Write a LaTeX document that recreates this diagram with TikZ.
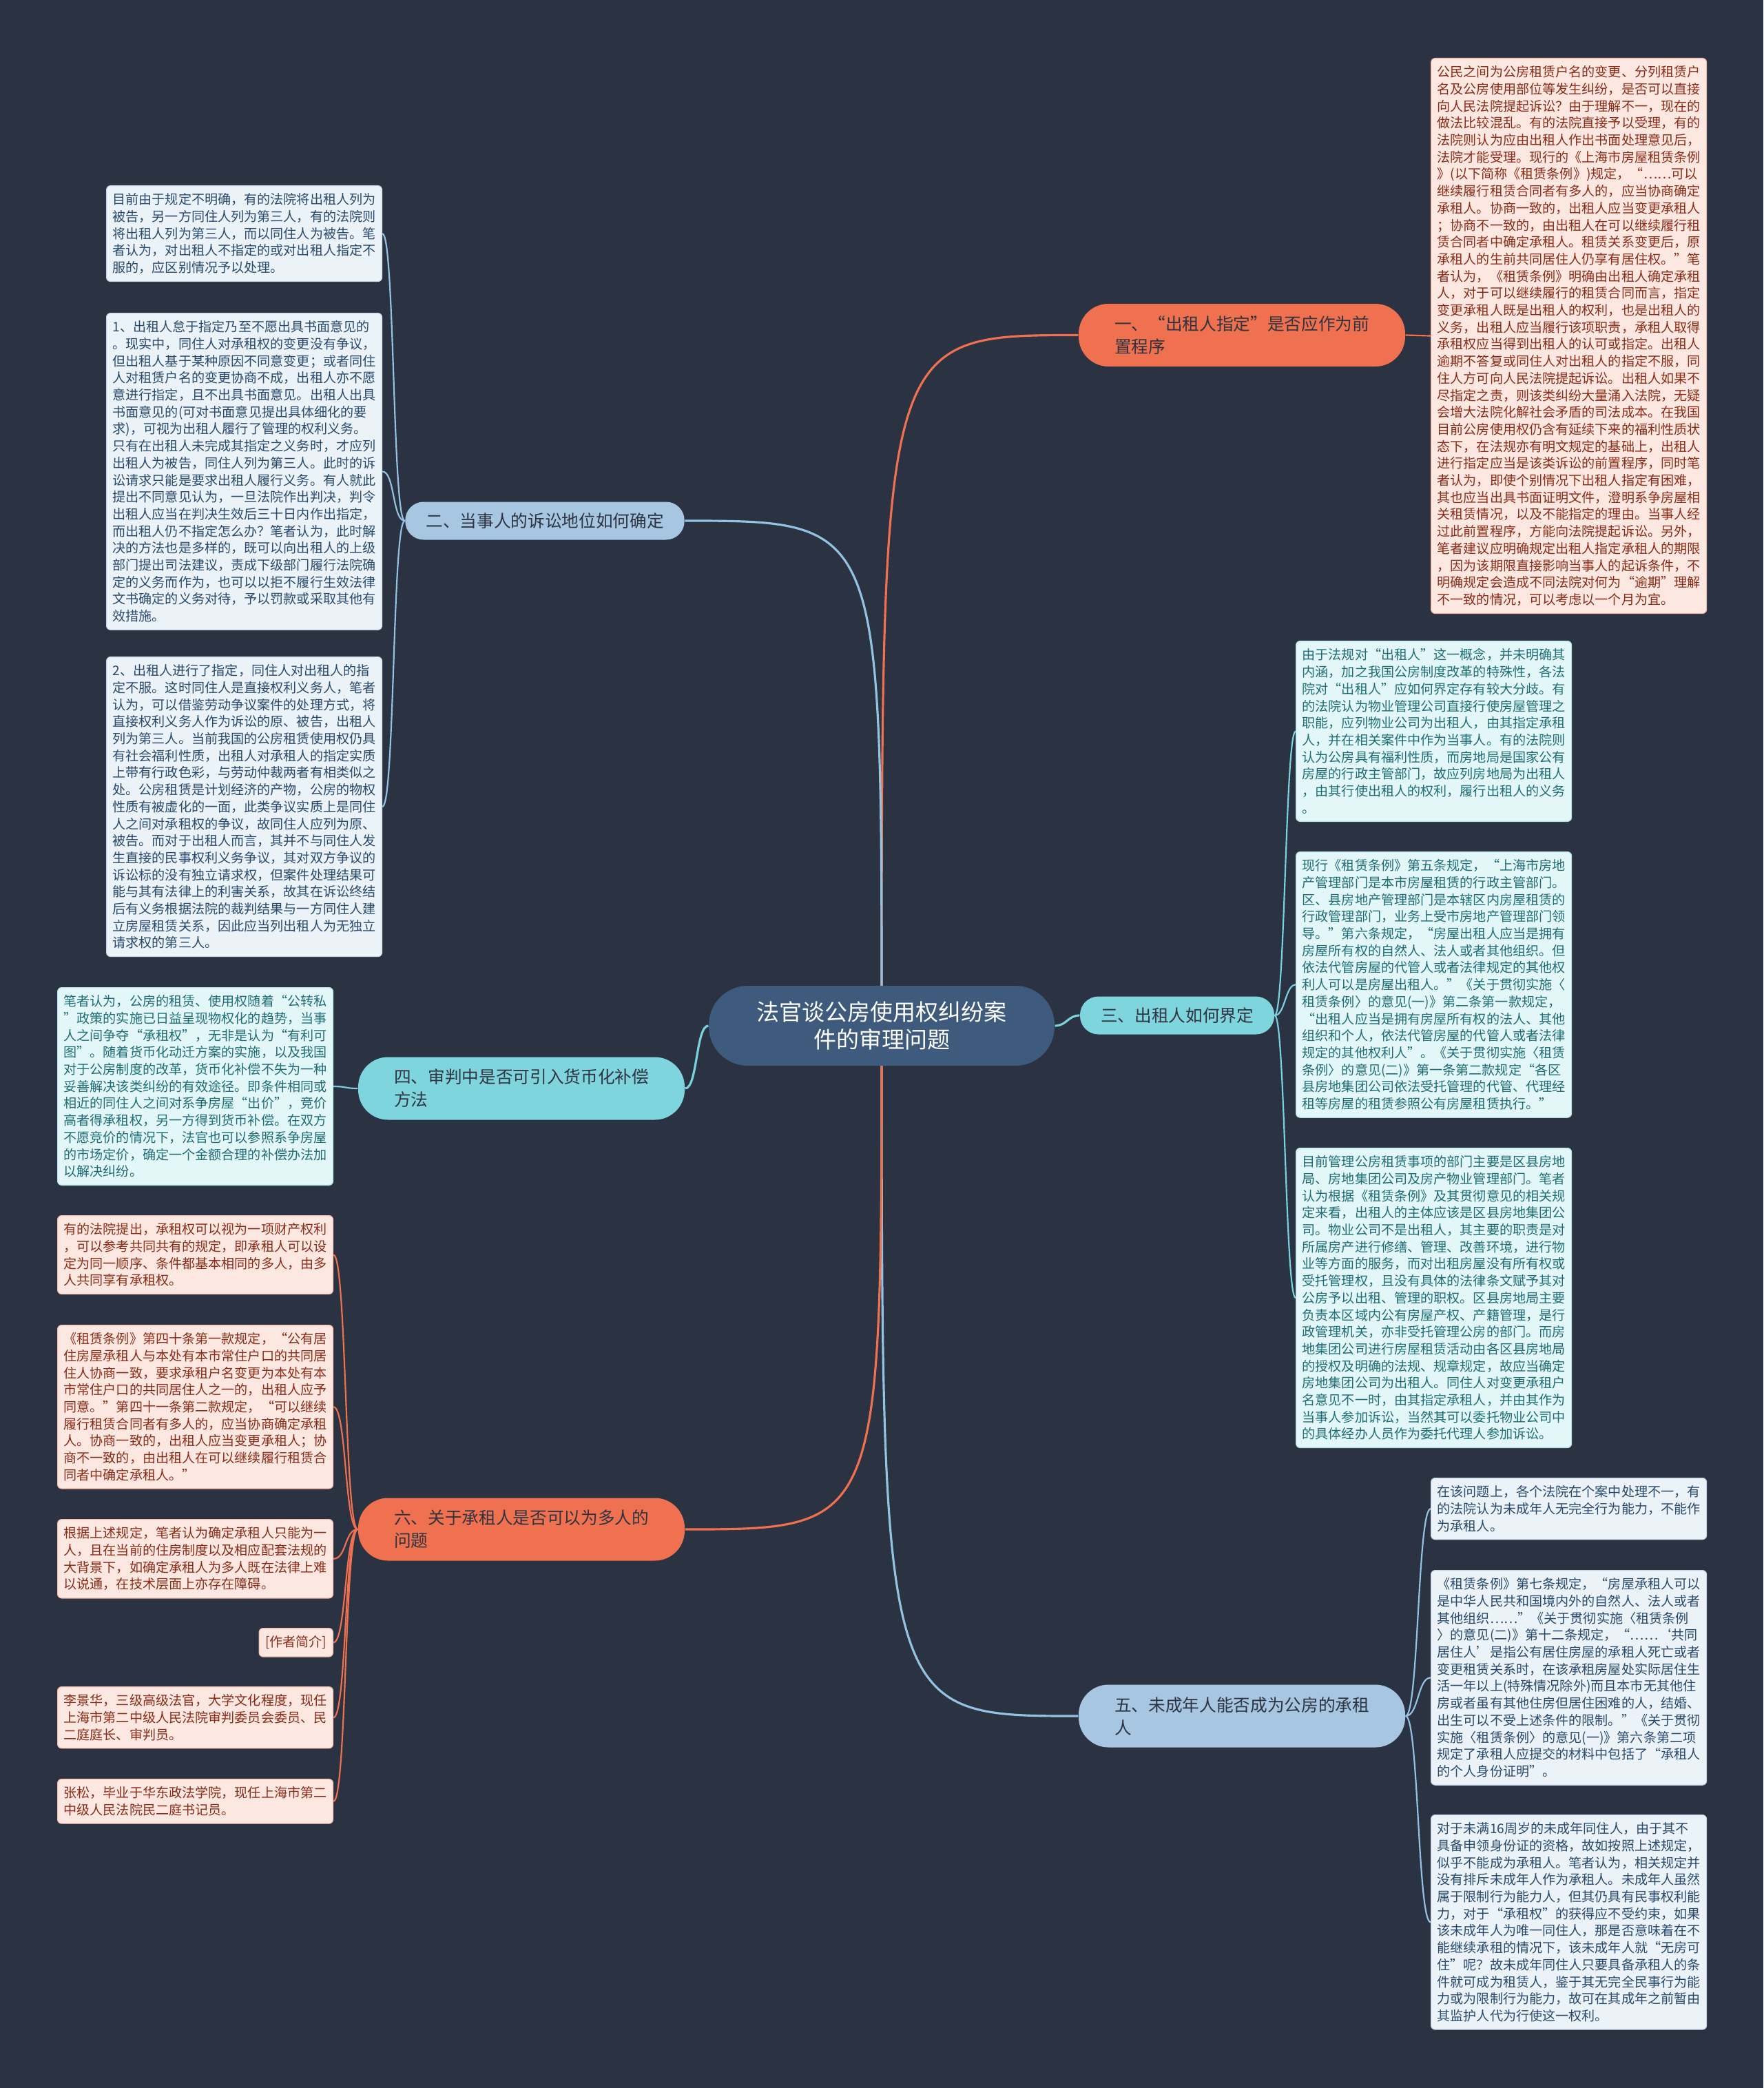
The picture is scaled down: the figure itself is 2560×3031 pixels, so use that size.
\documentclass[tikz,border=0pt]{standalone}
\usepackage{fontspec}
\setmainfont{Noto Sans CJK SC}
\definecolor{bgc}{HTML}{2B3241}
\definecolor{cen}{HTML}{3E5A7D}
\definecolor{orn}{HTML}{EF7150}
\definecolor{blu}{HTML}{A6C6E2}
\definecolor{cyn}{HTML}{7FD5DD}
\definecolor{lnB}{HTML}{93C3E3}
\definecolor{lnC}{HTML}{78D3DE}
\definecolor{oF}{HTML}{FDE7E1}\definecolor{oD}{HTML}{F3B9A8}\definecolor{oT}{HTML}{8A2C17}
\definecolor{bF}{HTML}{EBF2F8}\definecolor{bD}{HTML}{C3D6E8}\definecolor{bT}{HTML}{284A6C}
\definecolor{cF}{HTML}{E3F6F8}\definecolor{cD}{HTML}{B0E2E7}\definecolor{cT}{HTML}{1F6E76}
\definecolor{brT}{HTML}{2F3440}
\pgfdeclarelayer{bg}
\pgfsetlayers{bg,main}
\tikzset{
  lf/.style={rounded corners=1.8pt, inner xsep=2.7pt, inner ysep=3.3pt, align=left, anchor=north west, line width=0.35pt, font=\fontsize{5.73pt}{7.41pt}\selectfont},
  lfO/.style={lf, draw=oD, fill=oF, text=oT},
  lfB/.style={lf, draw=bD, fill=bF, text=bT},
  lfC/.style={lf, draw=cD, fill=cF, text=cT},
  lfw/.style={text width=114.6pt},
  brbase/.style={font=\fontsize{7.4pt}{9.9pt}\selectfont, text=brT},
  brtwo/.style={brbase, rounded corners=13pt, align=left, text width=111pt, inner xsep=15.6pt, minimum height=27.3pt},
  brone/.style={brbase, rounded corners=8pt, inner xsep=9pt, minimum height=16.5pt},
  centre/.style={fill=cen, text=white, rounded corners=17pt, align=center, minimum width=150.6pt, minimum height=34.8pt, font=\fontsize{9.9pt}{12.2pt}\selectfont},
  lnk/.style={line width=0.65pt},
  mlnk/.style={line width=0.95pt},
}
\begin{document}
\begin{tikzpicture}[x=0.3pt,y=-0.3pt]
\useasboundingbox (0,0) rectangle (2560,3031);
\begin{pgfonlayer}{bg}
\fill[bgc] (0,0) rectangle (2560,3031);
\end{pgfonlayer}

% central
\node[centre] (c) at (1280,1489) {法官谈公房使用权纠纷案\\件的审理问题};

% branches
\node[brtwo, fill=orn] (b1) at (1803,486.5) {一、“出租人指定”是否应作为前\\置程序};
\node[brone, fill=blu] (b2) at (791,756) {二、当事人的诉讼地位如何确定};
\node[brone, fill=cyn] (b3) at (1709,1474) {三、出租人如何界定};
\node[brtwo, fill=cyn] (b4) at (757,1580) {四、审判中是否可引入货币化补偿\\方法};
\node[brtwo, fill=blu] (b5) at (1803,2491) {五、未成年人能否成为公房的承租\\人};
\node[brtwo, fill=orn] (b6) at (757,2220) {六、关于承租人是否可以为多人的\\问题};

% leaf 1
\node[lfO, lfw] (l1) at (2077,84) {公民之间为公房租赁户名的变更、分列租赁户\\
名及公房使用部位等发生纠纷，是否可以直接\\
向人民法院提起诉讼？由于理解不一，现在的\\
做法比较混乱。有的法院直接予以受理，有的\\
法院则认为应由出租人作出书面处理意见后，\\
法院才能受理。现行的《上海市房屋租赁条例\\
》(以下简称《租赁条例》)规定，“……可以\\
继续履行租赁合同者有多人的，应当协商确定\\
承租人。协商一致的，出租人应当变更承租人\\
；协商不一致的，由出租人在可以继续履行租\\
赁合同者中确定承租人。租赁关系变更后，原\\
承租人的生前共同居住人仍享有居住权。”笔\\
者认为，《租赁条例》明确由出租人确定承租\\
人，对于可以继续履行的租赁合同而言，指定\\
变更承租人既是出租人的权利，也是出租人的\\
义务，出租人应当履行该项职责，承租人取得\\
承租权应当得到出租人的认可或指定。出租人\\
逾期不答复或同住人对出租人的指定不服，同\\
住人方可向人民法院提起诉讼。出租人如果不\\
尽指定之责，则该类纠纷大量涌入法院，无疑\\
会增大法院化解社会矛盾的司法成本。在我国\\
目前公房使用权仍含有延续下来的福利性质状\\
态下，在法规亦有明文规定的基础上，出租人\\
进行指定应当是该类诉讼的前置程序，同时笔\\
者认为，即使个别情况下出租人指定有困难，\\
其也应当出具书面证明文件，澄明系争房屋相\\
关租赁情况，以及不能指定的理由。当事人经\\
过此前置程序，方能向法院提起诉讼。另外，\\
笔者建议应明确规定出租人指定承租人的期限\\
，因为该期限直接影响当事人的起诉条件，不\\
明确规定会造成不同法院对何为“逾期”理解\\
不一致的情况，可以考虑以一个月为宜。};

% leaves 2
\node[lfB, lfw] (l2a) at (154,269) {目前由于规定不明确，有的法院将出租人列为\\
被告，另一方同住人列为第三人，有的法院则\\
将出租人列为第三人，而以同住人为被告。笔\\
者认为，对出租人不指定的或对出租人指定不\\
服的，应区别情况予以处理。};
\node[lfB, lfw] (l2b) at (154,454) {1、出租人怠于指定乃至不愿出具书面意见的\\
。现实中，同住人对承租权的变更没有争议，\\
但出租人基于某种原因不同意变更；或者同住\\
人对租赁户名的变更协商不成，出租人亦不愿\\
意进行指定，且不出具书面意见。出租人出具\\
书面意见的(可对书面意见提出具体细化的要\\
求)，可视为出租人履行了管理的权利义务。\\
只有在出租人未完成其指定之义务时，才应列\\
出租人为被告，同住人列为第三人。此时的诉\\
讼请求只能是要求出租人履行义务。有人就此\\
提出不同意见认为，一旦法院作出判决，判令\\
出租人应当在判决生效后三十日内作出指定，\\
而出租人仍不指定怎么办？笔者认为，此时解\\
决的方法也是多样的，既可以向出租人的上级\\
部门提出司法建议，责成下级部门履行法院确\\
定的义务而作为，也可以以拒不履行生效法律\\
文书确定的义务对待，予以罚款或采取其他有\\
效措施。};
\node[lfB, lfw] (l2c) at (154,953) {2、出租人进行了指定，同住人对出租人的指\\
定不服。这时同住人是直接权利义务人，笔者\\
认为，可以借鉴劳动争议案件的处理方式，将\\
直接权利义务人作为诉讼的原、被告，出租人\\
列为第三人。当前我国的公房租赁使用权仍具\\
有社会福利性质，出租人对承租人的指定实质\\
上带有行政色彩，与劳动仲裁两者有相类似之\\
处。公房租赁是计划经济的产物，公房的物权\\
性质有被虚化的一面，此类争议实质上是同住\\
人之间对承租权的争议，故同住人应列为原、\\
被告。而对于出租人而言，其并不与同住人发\\
生直接的民事权利义务争议，其对双方争议的\\
诉讼标的没有独立请求权，但案件处理结果可\\
能与其有法律上的利害关系，故其在诉讼终结\\
后有义务根据法院的裁判结果与一方同住人建\\
立房屋租赁关系，因此应当列出租人为无独立\\
请求权的第三人。};

% leaves 3
\node[lfC, lfw] (l3a) at (1881,930) {由于法规对“出租人”这一概念，并未明确其\\
内涵，加之我国公房制度改革的特殊性，各法\\
院对“出租人”应如何界定存有较大分歧。有\\
的法院认为物业管理公司直接行使房屋管理之\\
职能，应列物业公司为出租人，由其指定承租\\
人，并在相关案件中作为当事人。有的法院则\\
认为公房具有福利性质，而房地局是国家公有\\
房屋的行政主管部门，故应列房地局为出租人\\
，由其行使出租人的权利，履行出租人的义务\\
。};
\node[lfC, lfw] (l3b) at (1881,1236) {现行《租赁条例》第五条规定，“上海市房地\\
产管理部门是本市房屋租赁的行政主管部门。\\
区、县房地产管理部门是本辖区内房屋租赁的\\
行政管理部门，业务上受市房地产管理部门领\\
导。”第六条规定，“房屋出租人应当是拥有\\
房屋所有权的自然人、法人或者其他组织。但\\
依法代管房屋的代管人或者法律规定的其他权\\
利人可以是房屋出租人。”《关于贯彻实施〈\\
租赁条例〉的意见(一)》第二条第一款规定，\\
“出租人应当是拥有房屋所有权的法人、其他\\
组织和个人，依法代管房屋的代管人或者法律\\
规定的其他权利人”。《关于贯彻实施〈租赁\\
条例〉的意见(二)》第一条第二款规定“各区\\
县房地集团公司依法受托管理的代管、代理经\\
租等房屋的租赁参照公有房屋租赁执行。”};
\node[lfC, lfw] (l3c) at (1881,1666) {目前管理公房租赁事项的部门主要是区县房地\\
局、房地集团公司及房产物业管理部门。笔者\\
认为根据《租赁条例》及其贯彻意见的相关规\\
定来看，出租人的主体应该是区县房地集团公\\
司。物业公司不是出租人，其主要的职责是对\\
所属房产进行修缮、管理、改善环境，进行物\\
业等方面的服务，而对出租房屋没有所有权或\\
受托管理权，且没有具体的法律条文赋予其对\\
公房予以出租、管理的职权。区县房地局主要\\
负责本区域内公有房屋产权、产籍管理，是行\\
政管理机关，亦非受托管理公房的部门。而房\\
地集团公司进行房屋租赁活动由各区县房地局\\
的授权及明确的法规、规章规定，故应当确定\\
房地集团公司为出租人。同住人对变更承租户\\
名意见不一时，由其指定承租人，并由其作为\\
当事人参加诉讼，当然其可以委托物业公司中\\
的具体经办人员作为委托代理人参加诉讼。};

% leaf 4
\node[lfC, lfw] (l4) at (83,1433) {笔者认为，公房的租赁、使用权随着“公转私\\
”政策的实施已日益呈现物权化的趋势，当事\\
人之间争夺“承租权”，无非是认为“有利可\\
图”。随着货币化动迁方案的实施，以及我国\\
对于公房制度的改革，货币化补偿不失为一种\\
妥善解决该类纠纷的有效途径。即条件相同或\\
相近的同住人之间对系争房屋“出价”，竞价\\
高者得承租权，另一方得到货币补偿。在双方\\
不愿竞价的情况下，法官也可以参照系争房屋\\
的市场定价，确定一个金额合理的补偿办法加\\
以解决纠纷。};

% leaves 5
\node[lfB, lfw] (l5a) at (2077,2145) {在该问题上，各个法院在个案中处理不一，有\\
的法院认为未成年人无完全行为能力，不能作\\
为承租人。};
\node[lfB, lfw] (l5b) at (2077,2279) {《租赁条例》第七条规定，“房屋承租人可以\\
是中华人民共和国境内外的自然人、法人或者\\
其他组织……”《关于贯彻实施〈租赁条例\\
〉的意见(二)》第十二条规定，“……‘共同\\
居住人’是指公有居住房屋的承租人死亡或者\\
变更租赁关系时，在该承租房屋处实际居住生\\
活一年以上(特殊情况除外)而且本市无其他住\\
房或者虽有其他住房但居住困难的人，结婚、\\
出生可以不受上述条件的限制。”《关于贯彻\\
实施〈租赁条例〉的意见(一)》第六条第二项\\
规定了承租人应提交的材料中包括了“承租人\\
的个人身份证明”。};
\node[lfB, lfw] (l5c) at (2077,2634) {对于未满16周岁的未成年同住人，由于其不\\
具备申领身份证的资格，故如按照上述规定，\\
似乎不能成为承租人。笔者认为，相关规定并\\
没有排斥未成年人作为承租人。未成年人虽然\\
属于限制行为能力人，但其仍具有民事权利能\\
力，对于“承租权”的获得应不受约束，如果\\
该未成年人为唯一同住人，那是否意味着在不\\
能继续承租的情况下，该未成年人就“无房可\\
住”呢？故未成年同住人只要具备承租人的条\\
件就可成为租赁人，鉴于其无完全民事行为能\\
力或为限制行为能力，故可在其成年之前暂由\\
其监护人代为行使这一权利。};

% leaves 6
\node[lfO, lfw] (l6a) at (83,1764) {有的法院提出，承租权可以视为一项财产权利\\
，可以参考共同共有的规定，即承租人可以设\\
定为同一顺序、条件都基本相同的多人，由多\\
人共同享有承租权。};
\node[lfO, lfw] (l6b) at (83,1923) {《租赁条例》第四十条第一款规定，“公有居\\
住房屋承租人与本处有本市常住户口的共同居\\
住人协商一致，要求承租户名变更为本处有本\\
市常住户口的共同居住人之一的，出租人应予\\
同意。”第四十一条第二款规定，“可以继续\\
履行租赁合同者有多人的，应当协商确定承租\\
人。协商一致的，出租人应当变更承租人；协\\
商不一致的，由出租人在可以继续履行租赁合\\
同者中确定承租人。”};
\node[lfO, lfw] (l6c) at (83,2205) {根据上述规定，笔者认为确定承租人只能为一\\
人，且在当前的住房制度以及相应配套法规的\\
大背景下，如确定承租人为多人既在法律上难\\
以说通，在技术层面上亦存在障碍。};
\node[lfO, anchor=north east] (l6d) at (484,2363) {[作者简介]};
\node[lfO, lfw] (l6e) at (83,2448) {李景华，三级高级法官，大学文化程度，现任\\
上海市第二中级人民法院审判委员会委员、民\\
二庭庭长、审判员。};
\node[lfO, lfw] (l6f) at (83,2582) {张松，毕业于华东政法学院，现任上海市第二\\
中级人民法院民二庭书记员。};

\begin{pgfonlayer}{bg}
% main connectors
\draw[mlnk, orn] (c.center) .. controls (1280,486.5) .. (b1.west);
\draw[mlnk, lnB] (c.center) .. controls (1280,756) .. (b2.east);
\draw[mlnk, lnC] (c.east) .. controls +(17,0) and +(-17,0) .. (b3.west);
\draw[mlnk, lnC] (c.west) .. controls +(-18,0) and +(18,0) .. (b4.east);
\draw[mlnk, lnB] (c.center) .. controls (1280,2491) .. (b5.west);
\draw[mlnk, orn] (c.center) .. controls (1280,2220) .. (b6.east);
% leaf connectors
\draw[lnk, orn] (b1.east) .. controls +(19,0) and +(-19,0) .. (l1.west);
\foreach \t in {l2a,l2b,l2c}
  \draw[lnk, lnB] (b2.west) .. controls +(-18,0) and +(18,0) .. (\t.east);
\foreach \t in {l3a,l3b,l3c}
  \draw[lnk, lnC] (b3.east) .. controls +(15,0) and +(-15,0) .. (\t.west);
\draw[lnk, lnC] (b4.west) .. controls +(-18,0) and +(18,0) .. (l4.east);
\foreach \t in {l5a,l5b,l5c}
  \draw[lnk, lnB] (b5.east) .. controls +(19,0) and +(-19,0) .. (\t.west);
\foreach \t in {l6a,l6b,l6c,l6d,l6e,l6f}
  \draw[lnk, orn] (b6.west) .. controls +(-19,0) and +(19,0) .. (\t.east);
\end{pgfonlayer}
\end{tikzpicture}
\end{document}
